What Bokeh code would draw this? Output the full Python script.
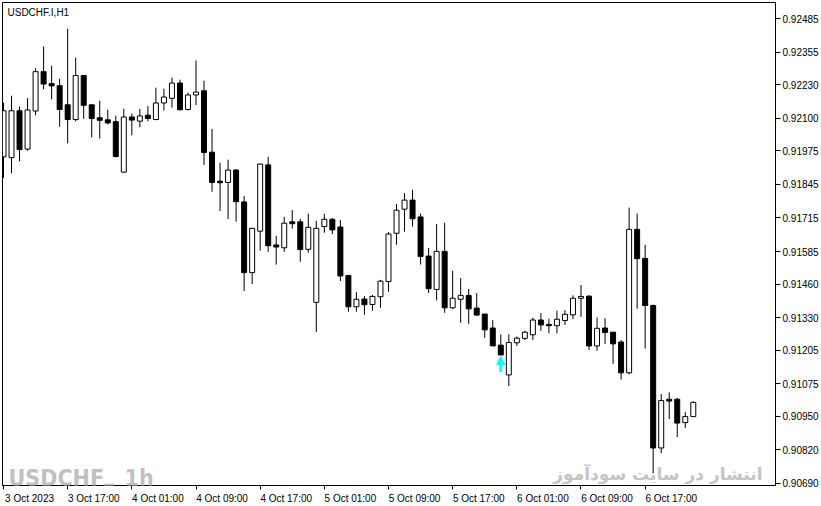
from bokeh.plotting import figure
from bokeh.models import (ColumnDataSource, FixedTicker, PrintfTickFormatter, Label,
                          Arrow, NormalHead, Range1d)
from bokeh.embed import file_html
from bokeh.resources import INLINE

# USDCHF H1 candles, 3 Oct 09:00 .. 6 Oct 23:00
opens = [
    0.91951, 0.91948, 0.92129, 0.91981, 0.92128, 0.92280, 0.92234, 0.92226, 0.92152, 0.92095,
    0.92265, 0.92152, 0.92102, 0.92094, 0.92087, 0.91892, 0.92105, 0.92089, 0.92112, 0.92095,
    0.92159, 0.92177, 0.92236, 0.92134, 0.92190, 0.92206, 0.91969, 0.91857, 0.91852, 0.91900,
    0.91777, 0.91504, 0.91664, 0.91920, 0.91611, 0.91600, 0.91700, 0.91700, 0.91594, 0.91389,
    0.91682, 0.91710, 0.91680, 0.91493, 0.91372, 0.91402, 0.91381, 0.91411, 0.91470, 0.91656,
    0.91749, 0.91784, 0.91719, 0.91568, 0.91439, 0.91586, 0.91368, 0.91401, 0.91416, 0.91367,
    0.91344, 0.91290, 0.91224, 0.91109, 0.91233, 0.91250, 0.91264, 0.91321, 0.91304, 0.91299,
    0.91319, 0.91341, 0.91405, 0.91413, 0.91221, 0.91290, 0.91274, 0.91236, 0.91117, 0.91671,
    0.91559, 0.91377, 0.90827, 0.91015, 0.91015, 0.90925, 0.90948]
highs = [
    0.92160, 0.92187, 0.92145, 0.92178, 0.92293, 0.92377, 0.92303, 0.92253, 0.92445, 0.92334,
    0.92267, 0.92152, 0.92168, 0.92133, 0.92110, 0.92137, 0.92118, 0.92136, 0.92147, 0.92218,
    0.92214, 0.92257, 0.92249, 0.92199, 0.92323, 0.92245, 0.92059, 0.91928, 0.91940, 0.91904,
    0.91800, 0.91677, 0.91925, 0.91951, 0.91646, 0.91719, 0.91746, 0.91712, 0.91732, 0.91704,
    0.91731, 0.91714, 0.91707, 0.91493, 0.91428, 0.91413, 0.91418, 0.91476, 0.91661, 0.91769,
    0.91811, 0.91824, 0.91732, 0.91599, 0.91692, 0.91696, 0.91511, 0.91483, 0.91441, 0.91425,
    0.91344, 0.91321, 0.91266, 0.91266, 0.91257, 0.91279, 0.91330, 0.91348, 0.91326, 0.91357,
    0.91359, 0.91416, 0.91456, 0.91417, 0.91331, 0.91328, 0.91274, 0.91243, 0.91755, 0.91732,
    0.91611, 0.91381, 0.91035, 0.91042, 0.91020, 0.90965, 0.91007]
lows = [
    0.91870, 0.91887, 0.91933, 0.91975, 0.92111, 0.92212, 0.92173, 0.92067, 0.92003, 0.92088,
    0.92098, 0.92026, 0.92022, 0.92076, 0.91950, 0.91890, 0.92034, 0.92065, 0.92088, 0.92093,
    0.92130, 0.92141, 0.92130, 0.92130, 0.92151, 0.91920, 0.91816, 0.91742, 0.91711, 0.91701,
    0.91433, 0.91460, 0.91589, 0.91584, 0.91535, 0.91584, 0.91674, 0.91546, 0.91581, 0.91275,
    0.91658, 0.91653, 0.91471, 0.91353, 0.91353, 0.91341, 0.91357, 0.91368, 0.91430, 0.91612,
    0.91662, 0.91682, 0.91535, 0.91426, 0.91397, 0.91349, 0.91364, 0.91310, 0.91306, 0.91337,
    0.91252, 0.91221, 0.91186, 0.91066, 0.91221, 0.91244, 0.91244, 0.91279, 0.91270, 0.91270,
    0.91302, 0.91324, 0.91333, 0.91205, 0.91202, 0.91229, 0.91152, 0.91091, 0.91111, 0.91364,
    0.91211, 0.90729, 0.90807, 0.90939, 0.90869, 0.90904, 0.90947]
closes = [
    0.92129, 0.92129, 0.91979, 0.92132, 0.92280, 0.92232, 0.92225, 0.92134, 0.92095, 0.92265,
    0.92150, 0.92099, 0.92092, 0.92082, 0.91952, 0.92105, 0.92093, 0.92109, 0.92099, 0.92159,
    0.92182, 0.92236, 0.92133, 0.92190, 0.92201, 0.91968, 0.91852, 0.91851, 0.91900, 0.91778,
    0.91504, 0.91675, 0.91923, 0.91608, 0.91603, 0.91695, 0.91693, 0.91593, 0.91679, 0.91675,
    0.91710, 0.91669, 0.91491, 0.91372, 0.91401, 0.91380, 0.91412, 0.91471, 0.91653, 0.91745,
    0.91784, 0.91712, 0.91566, 0.91442, 0.91586, 0.91368, 0.91405, 0.91416, 0.91364, 0.91340,
    0.91283, 0.91221, 0.91186, 0.91234, 0.91251, 0.91274, 0.91321, 0.91302, 0.91299, 0.91324,
    0.91343, 0.91405, 0.91412, 0.91221, 0.91289, 0.91273, 0.91229, 0.91117, 0.91671, 0.91558,
    0.91377, 0.90827, 0.91010, 0.91008, 0.90923, 0.90948, 0.91003]

time_ticks = [0, 8, 16, 24, 32, 40, 48, 56, 64, 72, 80]
time_labels = ["3 Oct 2023", "3 Oct 17:00", "4 Oct 01:00", "4 Oct 09:00", "4 Oct 17:00",
               "5 Oct 01:00", "5 Oct 09:00", "5 Oct 17:00", "6 Oct 01:00", "6 Oct 09:00",
               "6 Oct 17:00"]
price_ticks = [0.92485, 0.92355, 0.92230, 0.92100, 0.91975, 0.91845, 0.91715, 0.91585,
               0.91460, 0.91330, 0.91205, 0.91075, 0.90950, 0.90820, 0.90690]

# buy signal arrow (bar, tail price, tip price)
arrow_bar = [62]
arrow_tail = [0.91120]
arrow_tip = [0.91180]

bars = list(range(len(opens)))
src = ColumnDataSource(dict(
    x=bars,
    high=highs,
    low=lows,
    top=[max(o, c) for o, c in zip(opens, closes)],
    bottom=[min(o, c) for o, c in zip(opens, closes)],
    fill=["white" if c > o else "black" for o, c in zip(opens, closes)],
))

font = "Liberation Sans"
x0, x1 = -0.125, 96.25
y0, y1 = 0.90682, 0.92547
p = figure(width=821, height=506, x_range=Range1d(x0, x1),
           y_range=Range1d(y0, y1), y_axis_location="right",
           output_backend="svg", toolbar_location=None, tools="",
           min_border_left=2, min_border_top=2, min_border_right=0, min_border_bottom=0)
p.xgrid.visible = False
p.ygrid.visible = False
p.outline_line_color = "black"
p.outline_line_alpha = 1.0

p.segment(x0="x", y0="low", x1="x", y1="high", source=src, line_color="black", line_width=1)
p.vbar(x="x", width=0.62, top="top", bottom="bottom", source=src,
       fill_color="fill", line_color="black", line_width=1)

for b, t0, t1 in zip(arrow_bar, arrow_tail, arrow_tip):
    p.add_layout(Arrow(end=NormalHead(size=8, fill_color="#00FFFF", line_color="#00FFFF"),
                       x_start=b, y_start=t0, x_end=b, y_end=t1,
                       line_color="#00FFFF", line_width=3))

# time axis: labels start at the tick, MT4 style
shift = 3.25
xa = p.xaxis[0]
xa.ticker = FixedTicker(ticks=[t + shift for t in time_ticks], minor_ticks=time_ticks)
xa.major_label_overrides = {t + shift: s for t, s in zip(time_ticks, time_labels)}
xa.major_tick_line_color = None
xa.major_tick_out = 0
xa.major_tick_in = 0
xa.minor_tick_line_color = "black"
xa.minor_tick_out = 4
xa.minor_tick_in = 0
xa.major_label_standoff = 3
xa.axis_line_color = "black"
xa.major_label_text_font = font
xa.major_label_text_font_size = "10px"
xa.major_label_text_color = "black"

ya = p.yaxis[0]
ya.ticker = FixedTicker(ticks=price_ticks)
ya.formatter = PrintfTickFormatter(format="%.5f")
ya.major_tick_out = 5
ya.major_tick_in = 0
ya.minor_tick_line_color = None
ya.major_label_standoff = 2
ya.axis_line_color = "black"
ya.major_label_text_font = font
ya.major_label_text_font_size = "10px"
ya.major_label_text_color = "black"

p.add_layout(Label(x=x0, y=y1, x_offset=5, y_offset=-4, text="USDCHF.I,H1",
                   text_font=font, text_font_size="10px", text_baseline="top",
                   text_color="black"))

# watermarks
wm = dict(text_font="'DejaVu Sans Condensed', 'Liberation Sans'", text_font_size="23px",
          text_font_style="bold", text_color="#c0c0c0", text_baseline="alphabetic")
p.add_layout(Label(x=x0, y=y0, x_offset=6, y_offset=8, text="USDCHF", **wm))
p.add_layout(Label(x=x0, y=y0, x_offset=101, y_offset=13, text="_", **wm))
p.add_layout(Label(x=x0, y=y0, x_offset=122, y_offset=8, text="1h", **wm))
p.add_layout(Label(x=x1, y=y0, x_offset=-13, y_offset=12,
                   text="انتشار در سایت سودآموز", text_align="right",
                   text_font="DejaVu Sans", text_font_size="17px", text_font_style="bold",
                   text_color="#c4c4c4", text_baseline="alphabetic"))

open("out.html", "w").write(file_html(p, INLINE))
